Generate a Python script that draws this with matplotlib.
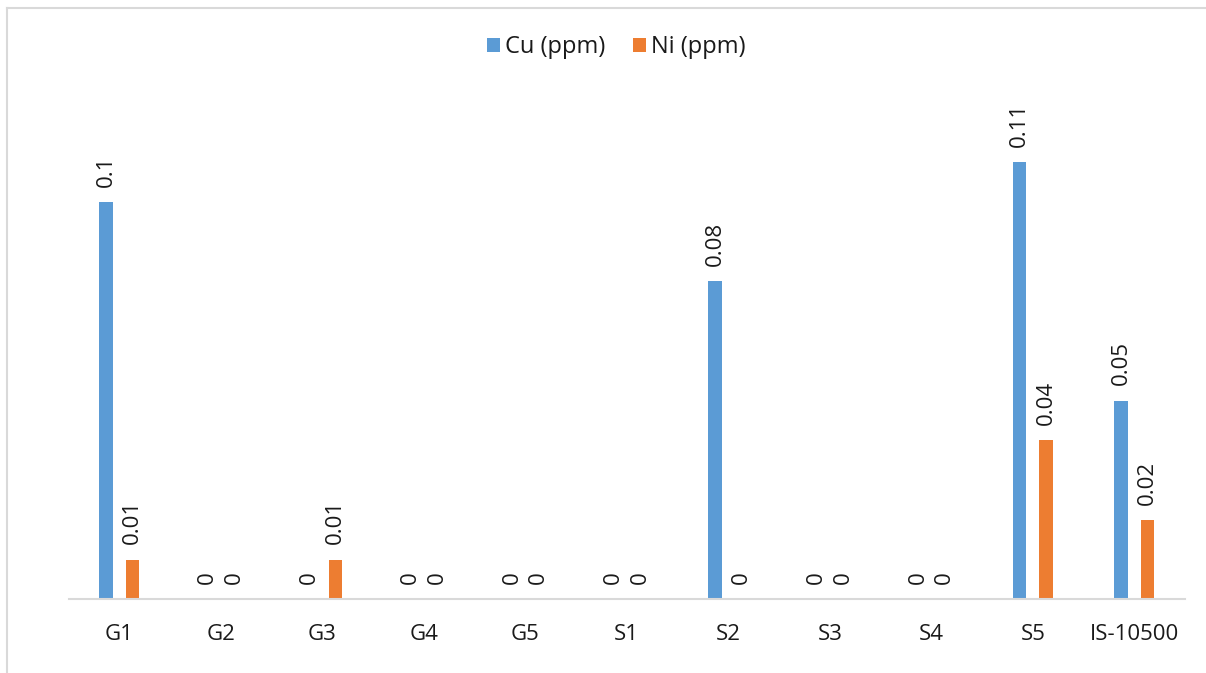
import matplotlib
matplotlib.use("Agg")
import matplotlib.pyplot as plt
from matplotlib.lines import Line2D
import numpy as np

plt.rcParams['font.family'] = ['Open Sans', 'DejaVu Sans']

categories = ["G1", "G2", "G3", "G4", "G5", "S1", "S2", "S3", "S4", "S5", "IS-10500"]
cu_ppm = [0.1, 0, 0, 0, 0, 0, 0.08, 0, 0, 0.11, 0.05]
ni_ppm = [0.01, 0, 0.01, 0, 0, 0, 0, 0, 0, 0.04, 0.02]

blue = "#5B9BD5"
orange = "#ED7D31"

fig = plt.figure(figsize=(12.06, 6.73), dpi=100)
ax = fig.add_axes([0.0568, 0.1095, 0.9258, 0.7088])

x = np.arange(len(categories))
w = 0.13
off = 0.13
b1 = ax.bar(x - off, cu_ppm, width=w, color=blue, label="Cu (ppm)")
b2 = ax.bar(x + off, ni_ppm, width=w, color=orange, label="Ni (ppm)")

for bars, vals in ((b1, cu_ppm), (b2, ni_ppm)):
    for rect, v in zip(bars, vals):
        ax.annotate(f"{v:g}", (rect.get_x() + rect.get_width() / 2, v),
                    xytext=(0, 11), textcoords="offset points",
                    rotation=90, ha="center", va="bottom",
                    fontsize=16, color="#1a1a1a")

ax.set_xlim(-0.5, len(categories) - 0.5)
ax.set_ylim(0, 0.12)
ax.set_xticks(x)
ax.set_xticklabels(categories, fontsize=16, color="#1a1a1a")
ax.tick_params(axis="x", length=0, pad=18)
ax.set_yticks([])
for s in ("top", "right", "left"):
    ax.spines[s].set_visible(False)
ax.spines["bottom"].set_color("#d9d9d9")
ax.spines["bottom"].set_linewidth(1.5)

leg = fig.legend(handles=[b1, b2], loc="center", bbox_to_anchor=(0.511, 0.93),
                 ncol=2, frameon=False, fontsize=17, handlelength=0.55,
                 handleheight=0.55, handletextpad=0.2, columnspacing=1.2)
for t in leg.get_texts():
    t.set_color("#1a1a1a")

# chart area outline along the left and top edges
fig.add_artist(Line2D([6.5 / 1206, 6.5 / 1206], [0, 1 - 7.5 / 673],
                      transform=fig.transFigure, color="#d9d9d9", lw=1.5))
fig.add_artist(Line2D([6.5 / 1206, 1], [1 - 7.5 / 673, 1 - 7.5 / 673],
                      transform=fig.transFigure, color="#d9d9d9", lw=1.5))

fig.savefig("out.png", dpi=100)
